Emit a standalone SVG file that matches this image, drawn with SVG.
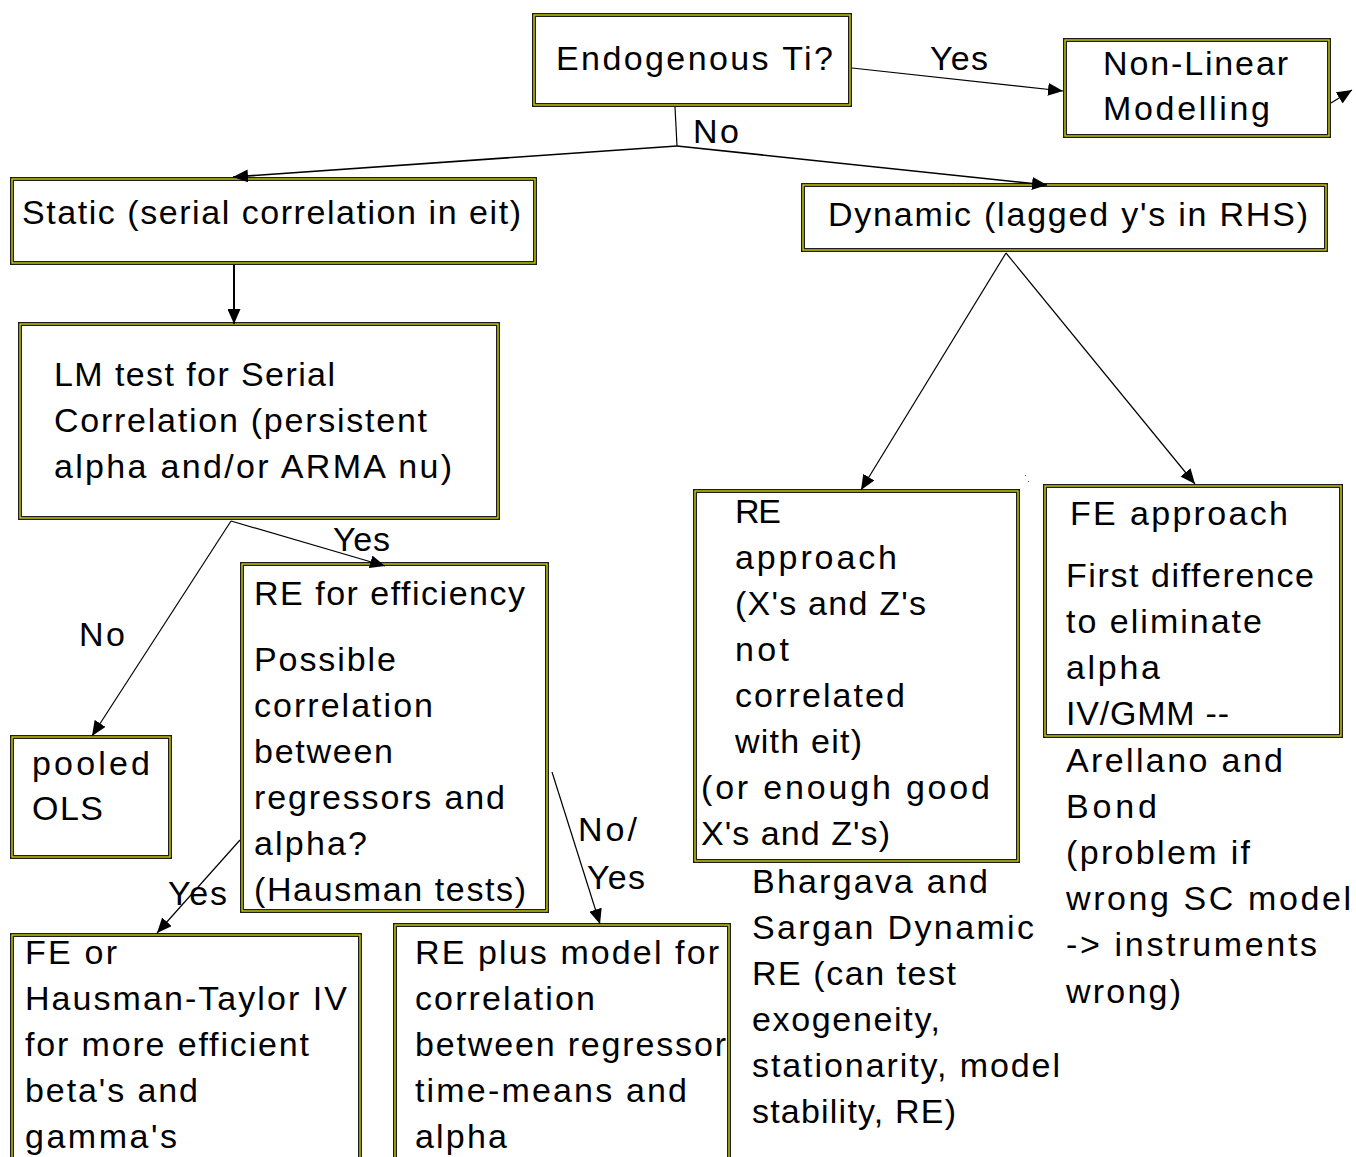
<svg xmlns="http://www.w3.org/2000/svg" width="1356" height="1157" viewBox="0 0 1356 1157">
<style>
text{font-family:"Liberation Sans",Arial,sans-serif;font-size:34px;fill:#000}
.o{fill:#fff;stroke:#1e1e1e;stroke-width:4}
.i{fill:none;stroke:#e8e800;stroke-width:1.2}
.c line{stroke:#000;stroke-width:1.2}
</style>
<defs>
<marker id="ah" markerUnits="userSpaceOnUse" markerWidth="15" markerHeight="13" refX="15" refY="6.5" orient="auto"><path d="M0,0 L15,6.5 L0,13 z" fill="#000"/></marker>
</defs>
<rect width="1356" height="1157" fill="#fff"/>
<g id="n-endo"><rect class="o" x="534" y="15" width="316" height="90"/><rect class="i" x="534" y="15" width="316" height="90"/>
<text x="556" y="70" textLength="277" lengthAdjust="spacing">Endogenous Ti?</text></g>
<g id="n-nonlin"><rect class="o" x="1065" y="40" width="264" height="96"/><rect class="i" x="1065" y="40" width="264" height="96"/>
<text x="1103" y="75" textLength="185" lengthAdjust="spacing">Non-Linear</text>
<text x="1103" y="120" textLength="167" lengthAdjust="spacing">Modelling</text></g>
<g id="n-static"><rect class="o" x="12" y="179" width="523" height="84"/><rect class="i" x="12" y="179" width="523" height="84"/>
<text x="22" y="224" textLength="499" lengthAdjust="spacing">Static (serial correlation in eit)</text></g>
<g id="n-dynamic"><rect class="o" x="803" y="185" width="523" height="65"/><rect class="i" x="803" y="185" width="523" height="65"/>
<text x="828" y="226" textLength="480" lengthAdjust="spacing">Dynamic (lagged y's in RHS)</text></g>
<g id="n-lm"><rect class="o" x="20" y="324" width="478" height="194"/><rect class="i" x="20" y="324" width="478" height="194"/>
<text x="54" y="386" textLength="281" lengthAdjust="spacing">LM test for Serial</text>
<text x="54" y="432" textLength="373" lengthAdjust="spacing">Correlation (persistent</text>
<text x="54" y="478" textLength="398" lengthAdjust="spacing">alpha and/or ARMA nu)</text></g>
<g id="n-pooled"><rect class="o" x="12" y="737" width="158" height="120"/><rect class="i" x="12" y="737" width="158" height="120"/>
<text x="32" y="775" textLength="118" lengthAdjust="spacing">pooled</text>
<text x="32" y="820" textLength="71" lengthAdjust="spacing">OLS</text></g>
<g id="n-reeff"><rect class="o" x="242" y="564" width="305" height="347"/><rect class="i" x="242" y="564" width="305" height="347"/>
<text x="254" y="605" textLength="271" lengthAdjust="spacing">RE for efficiency</text>
<text x="254" y="671" textLength="142" lengthAdjust="spacing">Possible</text>
<text x="254" y="717" textLength="179" lengthAdjust="spacing">correlation</text>
<text x="254" y="763" textLength="139" lengthAdjust="spacing">between</text>
<text x="254" y="809" textLength="251" lengthAdjust="spacing">regressors and</text>
<text x="254" y="855" textLength="113" lengthAdjust="spacing">alpha?</text>
<text x="254" y="901" textLength="272" lengthAdjust="spacing">(Hausman tests)</text></g>
<g id="n-fe"><rect class="o" x="12" y="935" width="348" height="240"/><rect class="i" x="12" y="935" width="348" height="240"/>
<text x="25" y="964" textLength="92" lengthAdjust="spacing">FE or</text>
<text x="25" y="1010" textLength="322" lengthAdjust="spacing">Hausman-Taylor IV</text>
<text x="25" y="1056" textLength="284" lengthAdjust="spacing">for more efficient</text>
<text x="25" y="1102" textLength="173" lengthAdjust="spacing">beta's and</text>
<text x="25" y="1148" textLength="152" lengthAdjust="spacing">gamma's</text></g>
<g id="n-replus"><rect class="o" x="395" y="925" width="334" height="250"/><rect class="i" x="395" y="925" width="334" height="250"/>
<text x="415" y="964" textLength="304" lengthAdjust="spacing">RE plus model for</text>
<text x="415" y="1010" textLength="180" lengthAdjust="spacing">correlation</text>
<text x="415" y="1056" textLength="311" lengthAdjust="spacing">between regressor</text>
<text x="415" y="1102" textLength="272" lengthAdjust="spacing">time-means and</text>
<text x="415" y="1148" textLength="92" lengthAdjust="spacing">alpha</text></g>
<g id="n-reapp"><rect class="o" x="695" y="491" width="323" height="370"/><rect class="i" x="695" y="491" width="323" height="370"/>
<text x="735" y="523" textLength="46" lengthAdjust="spacing">RE</text>
<text x="735" y="569" textLength="162" lengthAdjust="spacing">approach</text>
<text x="735" y="615" textLength="191" lengthAdjust="spacing">(X's and Z's</text>
<text x="735" y="661" textLength="54" lengthAdjust="spacing">not</text>
<text x="735" y="707" textLength="170" lengthAdjust="spacing">correlated</text>
<text x="735" y="753" textLength="127" lengthAdjust="spacing">with eit)</text>
<text x="701" y="799" textLength="289" lengthAdjust="spacing">(or enough good</text>
<text x="701" y="845" textLength="189" lengthAdjust="spacing">X's and Z's)</text>
<text x="752" y="893" textLength="236" lengthAdjust="spacing">Bhargava and</text>
<text x="752" y="939" textLength="282" lengthAdjust="spacing">Sargan Dynamic</text>
<text x="752" y="985" textLength="204" lengthAdjust="spacing">RE (can test</text>
<text x="752" y="1031" textLength="188" lengthAdjust="spacing">exogeneity,</text>
<text x="752" y="1077" textLength="308" lengthAdjust="spacing">stationarity, model</text>
<text x="752" y="1123" textLength="204" lengthAdjust="spacing">stability, RE)</text></g>
<g id="n-feapp"><rect class="o" x="1045" y="486" width="296" height="250"/><rect class="i" x="1045" y="486" width="296" height="250"/>
<text x="1070" y="525" textLength="218" lengthAdjust="spacing">FE approach</text>
<text x="1066" y="587" textLength="248" lengthAdjust="spacing">First difference</text>
<text x="1066" y="633" textLength="196" lengthAdjust="spacing">to eliminate</text>
<text x="1066" y="679" textLength="94" lengthAdjust="spacing">alpha</text>
<text x="1066" y="725" textLength="163" lengthAdjust="spacing">IV/GMM --</text>
<text x="1066" y="772" textLength="217" lengthAdjust="spacing">Arellano and</text>
<text x="1066" y="818" textLength="91" lengthAdjust="spacing">Bond</text>
<text x="1066" y="864" textLength="184" lengthAdjust="spacing">(problem if</text>
<text x="1066" y="910" textLength="285" lengthAdjust="spacing">wrong SC model</text>
<text x="1066" y="956" textLength="251" lengthAdjust="spacing">-&gt; instruments</text>
<text x="1066" y="1003" textLength="115" lengthAdjust="spacing">wrong)</text></g>
<g id="connectors" class="c">
<line x1="852" y1="68" x2="1063" y2="91" marker-end="url(#ah)"/>
<line x1="1331" y1="103" x2="1352" y2="90" marker-end="url(#ah)"/>
<line x1="675" y1="107" x2="677" y2="146"/>
<line x1="677" y1="146" x2="233" y2="177" style="stroke-width:1.6" marker-end="url(#ah)"/>
<line x1="677" y1="146" x2="1047" y2="185" style="stroke-width:1.6" marker-end="url(#ah)"/>
<line x1="234" y1="265" x2="234" y2="324" style="stroke-width:2" marker-end="url(#ah)"/>
<line x1="231" y1="521" x2="92" y2="736" marker-end="url(#ah)"/>
<line x1="231" y1="521" x2="385" y2="566" marker-end="url(#ah)"/>
<line x1="240" y1="840" x2="157" y2="933" marker-end="url(#ah)"/>
<line x1="552" y1="772" x2="600" y2="924" marker-end="url(#ah)"/>
<line x1="1006" y1="253" x2="861" y2="490" marker-end="url(#ah)"/>
<line x1="1006" y1="253" x2="1195" y2="484" marker-end="url(#ah)"/>
</g>
<g id="labels">
<text x="930" y="70" textLength="58" lengthAdjust="spacing">Yes</text>
<text x="693" y="143" textLength="46" lengthAdjust="spacing">No</text>
<text x="333" y="551" textLength="57" lengthAdjust="spacing">Yes</text>
<text x="79" y="646" textLength="46" lengthAdjust="spacing">No</text>
<text x="578" y="841" textLength="59" lengthAdjust="spacing">No/</text>
<text x="587" y="889" textLength="58" lengthAdjust="spacing">Yes</text>
<text x="168" y="905" textLength="59" lengthAdjust="spacing">Yes</text>
</g>
<rect x="1025" y="475" width="1" height="1" fill="#555"/>
<rect x="1028" y="481" width="1" height="1" fill="#555"/>
</svg>
